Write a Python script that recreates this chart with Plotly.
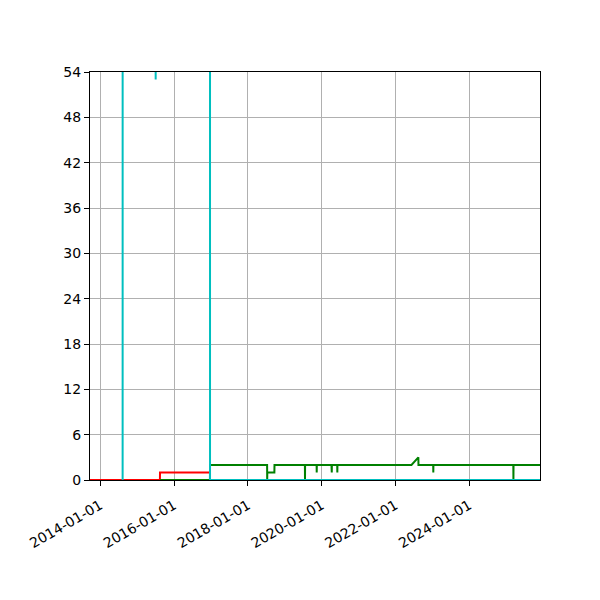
import plotly.graph_objects as go

# series (dates, counts)
red_dates = ["2013-09-21", "2015-08-14", "2015-08-15", "2016-12-22"]
red_values = [0, 0, 1, 1]

green_dates = ["2015-08-15", "2016-12-21", "2016-12-22",
               "2018-07-10", "2018-07-11", "2018-07-12", "2018-09-20", "2018-09-21",
               "2019-07-19", "2019-07-20", "2019-07-21",
               "2019-11-12", "2019-11-13", "2019-11-14",
               "2020-04-07", "2020-04-08", "2020-04-10", "2020-04-11",
               "2020-06-03", "2020-06-04", "2020-06-05",
               "2022-06-08", "2022-08-15", "2022-08-16",
               "2023-01-09", "2023-01-10", "2023-01-11",
               "2025-03-12", "2025-03-13", "2025-03-14", "2025-12-01"]
green_values = [0, 0, 2,
                2, 0, 1, 1, 2,
                2, 0, 2,
                2, 1, 2,
                2, 1, 1, 2,
                2, 1, 2,
                2, 3, 2,
                2, 1, 2,
                2, 0, 2, 2]

cyan_dates = ["2014-08-10", "2014-08-11", "2015-07-02", "2015-07-03", "2015-07-04",
              "2016-12-21", "2016-12-22", "2025-12-01"]
cyan_values = [0, 300, 300, 53, 300, 300, 0, 0]

y_ticks = [0, 6, 12, 18, 24, 30, 36, 42, 48, 54]

fig = go.Figure()
fig.add_trace(go.Scatter(x=red_dates, y=red_values, mode="lines",
                         line=dict(color="#ff0000", width=2)))
fig.add_trace(go.Scatter(x=green_dates, y=green_values, mode="lines",
                         line=dict(color="#008000", width=2)))
fig.add_trace(go.Scatter(x=cyan_dates, y=cyan_values, mode="lines",
                         line=dict(color="#00bfbf", width=2)))

axis_style = dict(showgrid=True, gridcolor="#b0b0b0", gridwidth=1,
                  showline=True, linecolor="black", linewidth=1, mirror=True,
                  ticks="outside", ticklen=5, tickcolor="black", zeroline=False,
                  tickfont=dict(family="DejaVu Sans", size=14, color="black"))

fig.update_xaxes(range=["2013-09-21", "2025-12-01"], tick0="2014-01-01", dtick="M24",
                 tickformat="%Y-%m-%d", tickangle=-30, ticklabelstandoff=6, **axis_style)
fig.update_yaxes(range=[0, 54], tickvals=y_ticks, **axis_style)

# page adds an 8px offset, so margins are shifted to keep the plot box at 90..540 / 72..480
fig.update_layout(width=600, height=600, showlegend=False,
                  plot_bgcolor="white", paper_bgcolor="white",
                  margin=dict(l=82, r=68, t=64, b=128))

fig.write_html("out.html")
